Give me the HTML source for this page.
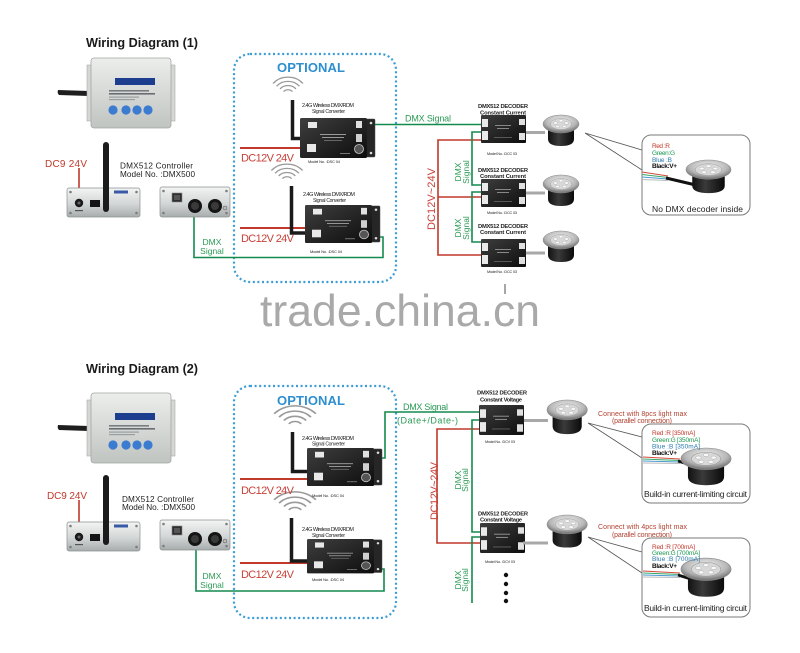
<!DOCTYPE html>
<html><head><meta charset="utf-8"><style>
html,body{margin:0;padding:0;background:#fff;}
svg{display:block;}
text{font-family:"Liberation Sans",Arial,sans-serif;}
</style></head><body>
<svg width="800" height="653" viewBox="0 0 800 653" xmlns="http://www.w3.org/2000/svg">
<defs>
<linearGradient id="gTop" x1="0" y1="0" x2="0" y2="1"><stop offset="0" stop-color="#eceeec"/><stop offset="1" stop-color="#c0c4c1"/></linearGradient>
<linearGradient id="gSil" x1="0" y1="0" x2="0" y2="1"><stop offset="0" stop-color="#f3f4f4"/><stop offset=".55" stop-color="#d3d6d6"/><stop offset="1" stop-color="#a7acac"/></linearGradient>
<linearGradient id="gBlk" x1="0" y1="0" x2="1" y2="1"><stop offset="0" stop-color="#3e3e3e"/><stop offset="1" stop-color="#0d0d0d"/></linearGradient>
<radialGradient id="gRing" cx=".5" cy=".35" r=".6"><stop offset="0" stop-color="#f4f4f4"/><stop offset=".7" stop-color="#b7b7b7"/><stop offset="1" stop-color="#7b7b7b"/></radialGradient>
<linearGradient id="gBody" x1="0" y1="0" x2="1" y2="0"><stop offset="0" stop-color="#111"/><stop offset=".4" stop-color="#3a3a3a"/><stop offset="1" stop-color="#0a0a0a"/></linearGradient>

<g id="ctop">
<path d="M-29,32 Q-30,35 -28,37 L2,38 L2,33 Z" fill="#1e1e1e"/>
<rect x="0" y="7" width="7" height="56" fill="#d4d7d4" stroke="#a8aba8" stroke-width=".6"/>
<rect x="81" y="7" width="7" height="56" fill="#d4d7d4" stroke="#a8aba8" stroke-width=".6"/>
<rect x="4" y="0" width="80" height="70" rx="3" fill="url(#gTop)" stroke="#a3a6a3" stroke-width=".8"/>
<rect x="28" y="20" width="40" height="7" fill="#1d3d8f"/>
<rect x="22" y="32" width="40" height="1.6" fill="#7a7d80"/>
<rect x="22" y="35" width="46" height="1.6" fill="#6a6d70"/>
<rect x="22" y="38.5" width="30" height="1.2" fill="#9a9da0"/>
<rect x="22" y="41" width="26" height="1.2" fill="#9a9da0"/>
<circle cx="26" cy="52" r="4.6" fill="#3b7bd0"/>
<circle cx="39" cy="52" r="4.6" fill="#3b7bd0"/>
<circle cx="50" cy="52" r="4.6" fill="#3b7bd0"/>
<circle cx="61" cy="52" r="4.6" fill="#3b7bd0"/>
</g>

<g id="front">
<rect x="0" y="0" width="73" height="29" rx="2" fill="url(#gSil)" stroke="#8c9090" stroke-width=".7"/>
<circle cx="3.5" cy="4" r="1.3" fill="#7a7e7e"/><circle cx="69.5" cy="4" r="1.3" fill="#7a7e7e"/>
<circle cx="3.5" cy="25" r="1.3" fill="#7a7e7e"/><circle cx="69.5" cy="25" r="1.3" fill="#7a7e7e"/>
<circle cx="12" cy="15" r="4.2" fill="#1a1a1a"/><circle cx="12" cy="15" r="1.5" fill="#666"/>
<rect x="23" y="12" width="10" height="7" fill="#141414"/>
<rect x="47" y="2.5" width="14" height="3" fill="#3a5aa8"/>
<rect x="8" y="22" width="8" height="1.2" fill="#555"/>
</g>

<g id="back">
<rect x="0" y="0" width="70" height="30" rx="2" fill="url(#gSil)" stroke="#8c9090" stroke-width=".7"/>
<circle cx="3.5" cy="4" r="1.3" fill="#7a7e7e"/><circle cx="66.5" cy="4" r="1.3" fill="#7a7e7e"/>
<circle cx="3.5" cy="26" r="1.3" fill="#7a7e7e"/><circle cx="66.5" cy="26" r="1.3" fill="#7a7e7e"/>
<rect x="12" y="6" width="10" height="9" fill="#2e2e2e" stroke="#888" stroke-width=".6"/>
<rect x="14" y="8" width="6" height="5" fill="#555"/>
<circle cx="35" cy="19" r="7" fill="#151515"/><circle cx="35" cy="19" r="4" fill="#3a3a3a"/>
<circle cx="55" cy="19" r="7" fill="#151515"/><circle cx="55" cy="19" r="4" fill="#3a3a3a"/>
<circle cx="65" cy="21" r="2" fill="#bbb" stroke="#555" stroke-width=".5"/>
</g>

<g id="conv">
<rect x="66" y="1" width="9" height="38" rx="1" fill="#262626" stroke="#4a4a4a" stroke-width=".5"/>
<circle cx="71" cy="5" r="1.3" fill="#ddd"/><circle cx="71" cy="35" r="1.3" fill="#ddd"/>
<rect x="0" y="0" width="67" height="40" rx="1.5" fill="url(#gBlk)"/>
<rect x="8" y="4" width="9" height="6" fill="#e8e8e8"/>
<rect x="7" y="26" width="9" height="8" fill="#e8e8e8"/>
<rect x="56" y="3" width="6" height="7" fill="#e0e0e0"/>
<rect x="56" y="16" width="6" height="8" fill="#d0d0d0"/>
<circle cx="59" cy="31" r="4.5" fill="#555" stroke="#ccc" stroke-width=".8"/>
<rect x="20" y="16" width="26" height="1" fill="#9a9a9a"/>
<rect x="22" y="19" width="22" height="1" fill="#9a9a9a"/>
<rect x="24" y="22" width="18" height=".8" fill="#777"/>
<rect x="40" y="35" width="10" height="1" fill="#777"/>
</g>

<g id="dec">
<rect x="0" y="0" width="45" height="28" rx="1" fill="url(#gBlk)"/>
<rect x="1" y="4" width="6" height="8" fill="#eaeaea"/>
<rect x="1" y="16" width="6" height="9" fill="#eaeaea"/>
<rect x="38" y="4" width="6" height="6" fill="#e0e0e0"/>
<rect x="38" y="18" width="6" height="7" fill="#e0e0e0"/>
<rect x="14" y="10" width="16" height="1" fill="#888"/>
<rect x="16" y="13" width="12" height="1" fill="#888"/>
<rect x="13" y="22" width="18" height=".8" fill="#666"/>
</g>

<g id="lt">
<path d="M5,9 L5,24 Q5,31 18,31 Q31,31 31,24 L31,9 Z" fill="url(#gBody)"/>
<ellipse cx="18" cy="9" rx="18" ry="9" fill="url(#gRing)" stroke="#8a8a8a" stroke-width=".5"/>
<ellipse cx="18" cy="9" rx="10.5" ry="5.5" fill="#d8d8d8" stroke="#999" stroke-width=".4"/>
<ellipse cx="12.5" cy="8" rx="2" ry="1.3" fill="#f8f8f8" stroke="#999" stroke-width=".3"/>
<ellipse cx="18" cy="5.8" rx="2" ry="1.3" fill="#f8f8f8" stroke="#999" stroke-width=".3"/>
<ellipse cx="23.5" cy="8" rx="2" ry="1.3" fill="#f8f8f8" stroke="#999" stroke-width=".3"/>
<ellipse cx="14.5" cy="11.5" rx="2" ry="1.3" fill="#f8f8f8" stroke="#999" stroke-width=".3"/>
<ellipse cx="21.5" cy="11.5" rx="2" ry="1.3" fill="#f8f8f8" stroke="#999" stroke-width=".3"/>
</g>

<g id="wifi" fill="none" stroke="#9a9a9a" stroke-width="1.2">
<path d="M-3.83,-3.21 A5,5 0 0 1 3.83,-3.21"/>
<path d="M-6.89,-5.79 A9,9 0 0 1 6.89,-5.79"/>
<path d="M-9.96,-8.36 A13,13 0 0 1 9.96,-8.36"/>
<path d="M-13.02,-10.93 A17,17 0 0 1 13.02,-10.93"/>
</g>
</defs>

<!-- ============ DIAGRAM 1 ============ -->
<text x="86" y="47" font-weight="bold" font-size="12.7" fill="#1a1a1a" textLength="112">Wiring Diagram (1)</text>

<rect x="234" y="54" width="162" height="228" rx="16" fill="none" stroke="#3b9dd4" stroke-width="2.2" stroke-dasharray="2 2.6"/>
<text x="277" y="72" font-weight="bold" font-size="13" fill="#2d8fd0" textLength="68">OPTIONAL</text>

<!-- wiring -->
<line x1="79" y1="168" x2="79" y2="200" stroke="#c0392b" stroke-width="1.6"/>
<line x1="240" y1="148" x2="306" y2="148" stroke="#c0392b" stroke-width="2"/>
<line x1="240" y1="228" x2="310" y2="228" stroke="#c0392b" stroke-width="2"/>
<path d="M194,212 V257.5 H383 V237 H372" fill="none" stroke="#138a4e" stroke-width="1.6"/>
<path d="M372,124.5 H482" fill="none" stroke="#138a4e" stroke-width="1.6"/>
<path d="M482,140 H438 V255 H482 M438,197 H482" fill="none" stroke="#c0392b" stroke-width="1.6"/>
<path d="M482,132 H472 V185 H482 M482,192 H472 V242 H482" fill="none" stroke="#138a4e" stroke-width="1.6"/>

<!-- devices -->
<use href="#ctop" x="87" y="58"/>
<use href="#front" x="67" y="188"/>
<rect x="103" y="142" width="6" height="70" rx="3" fill="#1b1b1b"/>
<use href="#back" x="160" y="187"/>

<use href="#wifi" transform="translate(288,95) scale(1.15,1.05)"/>
<path d="M292.5,100 V138.5 H308" fill="none" stroke="#1a1a1a" stroke-width="3.5"/>
<use href="#conv" x="300" y="118"/>
<use href="#wifi" transform="translate(287,182) scale(1.2,1.05)"/>
<path d="M291.5,186 V233 H308" fill="none" stroke="#1a1a1a" stroke-width="3.5"/>
<use href="#conv" transform="translate(305,205) scale(1,0.95)"/>

<use href="#dec" x="481" y="115"/>
<use href="#dec" x="481" y="179"/>
<use href="#dec" x="481" y="239"/>
<rect x="526" y="131" width="19" height="3" fill="#a8a8a8"/>
<rect x="526" y="191.5" width="19" height="3" fill="#a8a8a8"/>
<rect x="526" y="251.5" width="19" height="3" fill="#a8a8a8"/>
<use href="#lt" x="543" y="115"/>
<use href="#lt" x="543" y="175"/>
<use href="#lt" x="543" y="231"/>

<!-- callout 1 -->
<path d="M585,133 L642,150 M585,133 L642,170" stroke="#555" stroke-width=".8" fill="none"/>
<rect x="642" y="135" width="108" height="80" rx="9" fill="#fff" stroke="#7a7a7a" stroke-width="1"/>
<path d="M642,172 L668,176" stroke="#d04a3a" stroke-width="1"/>
<path d="M642,174.5 L668,177.5" stroke="#3aa86a" stroke-width="1"/>
<path d="M642,177 L668,179" stroke="#4a9ad0" stroke-width="1"/>
<path d="M642,179.5 L668,180.5" stroke="#bbb" stroke-width="1"/>
<path d="M666,178 L700,186" stroke="#111" stroke-width="3"/>
<use href="#lt" transform="translate(686,160) scale(1.25,1.07)"/>
<text font-size="6.5" x="652" y="148" fill="#c0392b" textLength="18">Red :R</text>
<text font-size="6.5" x="652" y="155" fill="#1a9a50" textLength="23">Green:G</text>
<text font-size="6.5" x="652" y="162" fill="#2a7ab0" textLength="20">Blue :B</text>
<text font-size="6.5" x="652" y="168" fill="#111" font-weight="bold" textLength="25">Black:V+</text>
<text font-size="8.5" x="652" y="212" fill="#222" textLength="91">No DMX decoder inside</text>

<!-- texts diagram 1 -->
<text x="45" y="167" font-size="10" fill="#c0392b" textLength="42">DC9 24V</text>
<text x="120" y="168.5" font-size="8.2" fill="#222" textLength="73">DMX512 Controller</text>
<text x="120" y="177" font-size="8.2" fill="#222" textLength="75">Model No. :DMX500</text>
<text x="212" y="245" font-size="8.5" fill="#2a9a55" text-anchor="middle">DMX</text>
<text x="212" y="254" font-size="8.5" fill="#2a9a55" text-anchor="middle">Signal</text>

<text x="302" y="107" font-size="5.5" fill="#222" textLength="52">2.4G Wireless DMX/RDM</text>
<text x="312" y="113" font-size="5" fill="#222" textLength="33">Signal Converter</text>
<text x="241" y="161.5" font-size="11" fill="#c8413a" textLength="53">DC12V 24V</text>
<text x="308" y="163" font-size="4" fill="#222" textLength="32">Model No. :DSC 04</text>

<text x="303" y="196" font-size="5.5" fill="#222" textLength="52">2.4G Wireless DMX/RDM</text>
<text x="313" y="202" font-size="5" fill="#222" textLength="33">Signal Converter</text>
<text x="241" y="242" font-size="11" fill="#c8413a" textLength="53">DC12V 24V</text>
<text x="310" y="253" font-size="4" fill="#222" textLength="32">Model No. :DSC 04</text>

<text x="405" y="121.5" font-size="9" fill="#2a9a55" textLength="46">DMX Signal</text>

<text x="478" y="108" font-size="5.8" font-weight="bold" fill="#222" textLength="50">DMX512 DECODER</text>
<text x="480" y="114.5" font-size="5.8" font-weight="bold" fill="#222" textLength="46">Constant Current</text>
<text x="487" y="155" font-size="3.8" fill="#222" textLength="30">Model No. :DCC 03</text>
<text x="478" y="172" font-size="5.8" font-weight="bold" fill="#222" textLength="50">DMX512 DECODER</text>
<text x="480" y="178" font-size="5.8" font-weight="bold" fill="#222" textLength="46">Constant Current</text>
<text x="487" y="214" font-size="3.8" fill="#222" textLength="30">Model No. :DCC 03</text>
<text x="478" y="228" font-size="5.8" font-weight="bold" fill="#222" textLength="50">DMX512 DECODER</text>
<text x="480" y="234" font-size="5.8" font-weight="bold" fill="#222" textLength="46">Constant Current</text>
<text x="487" y="273" font-size="3.8" fill="#222" textLength="30">Model No. :DCC 03</text>

<text transform="translate(435,199) rotate(-90)" font-size="11" fill="#c8413a" text-anchor="middle" textLength="62">DC12V~24V</text>
<text transform="translate(461,172) rotate(-90)" font-size="8.5" fill="#2a9a55" text-anchor="middle">DMX</text>
<text transform="translate(469,172) rotate(-90)" font-size="8.5" fill="#2a9a55" text-anchor="middle">Signal</text>
<text transform="translate(461,228) rotate(-90)" font-size="8.5" fill="#2a9a55" text-anchor="middle">DMX</text>
<text transform="translate(469,228) rotate(-90)" font-size="8.5" fill="#2a9a55" text-anchor="middle">Signal</text>

<!-- watermark -->
<line x1="505" y1="284" x2="505" y2="294" stroke="#888" stroke-width="1.5"/>
<text x="260" y="326" font-size="44.5" fill="#a9a9a9" textLength="280">trade.china.cn</text>

<!-- ============ DIAGRAM 2 ============ -->
<text x="86" y="373" font-weight="bold" font-size="12.7" fill="#1a1a1a" textLength="112">Wiring Diagram (2)</text>

<rect x="234" y="386" width="162" height="232" rx="16" fill="none" stroke="#3b9dd4" stroke-width="2.2" stroke-dasharray="2 2.6"/>
<text x="277" y="405" font-weight="bold" font-size="13" fill="#2d8fd0" textLength="68">OPTIONAL</text>

<line x1="79" y1="500" x2="79" y2="534" stroke="#c0392b" stroke-width="1.6"/>
<line x1="240" y1="479" x2="310" y2="479" stroke="#c0392b" stroke-width="2"/>
<line x1="240" y1="563" x2="310" y2="563" stroke="#c0392b" stroke-width="2"/>
<path d="M196,545 V591 H384 V569 H376" fill="none" stroke="#138a4e" stroke-width="1.6"/>
<path d="M376,458 H385 V412 H480" fill="none" stroke="#138a4e" stroke-width="1.6"/>
<path d="M480,429 H437 V543 H480" fill="none" stroke="#c0392b" stroke-width="1.6"/>
<path d="M480,420 H472 V532 H480 M480,537 H472 V603" fill="none" stroke="#138a4e" stroke-width="1.6"/>

<use href="#ctop" x="87" y="393"/>
<use href="#front" x="67" y="522"/>
<rect x="103" y="475" width="6" height="70" rx="3" fill="#1b1b1b"/>
<use href="#back" x="160" y="520"/>

<use href="#wifi" transform="translate(295,428) scale(1.6,1.3)" stroke-width=".9"/>
<path d="M292.5,432 V471.5 H310" fill="none" stroke="#1a1a1a" stroke-width="3.5"/>
<use href="#conv" transform="translate(307,448) scale(1,0.95)"/>
<use href="#wifi" transform="translate(295,514) scale(1.6,1.3)" stroke-width=".9"/>
<path d="M291.5,518 V561 H310" fill="none" stroke="#1a1a1a" stroke-width="3.5"/>
<use href="#conv" transform="translate(307,539) scale(1,0.86)"/>

<use href="#dec" transform="translate(479,405) scale(1,1.07)"/>
<use href="#dec" transform="translate(480,523) scale(1,1.07)"/>
<rect x="524" y="419" width="24" height="3" fill="#a8a8a8"/>
<rect x="523" y="541.5" width="25" height="3" fill="#a8a8a8"/>
<use href="#lt" transform="translate(547,400) scale(1.12,1.1)"/>
<use href="#lt" transform="translate(547,515) scale(1.12,1.05)"/>
<circle cx="506" cy="575" r="2.2" fill="#111"/>
<circle cx="506" cy="584" r="2.2" fill="#111"/>
<circle cx="506" cy="593" r="2.2" fill="#111"/>
<circle cx="506" cy="601" r="2.2" fill="#111"/>

<!-- callout 2 -->
<path d="M588,423 L642,437 M588,423 L642,458" stroke="#555" stroke-width=".8" fill="none"/>
<rect x="642" y="424" width="108" height="79" rx="9" fill="#fff" stroke="#7a7a7a" stroke-width="1"/>
<path d="M643,457 L680,459" stroke="#d04a3a" stroke-width="1"/>
<path d="M643,459 L680,460.5" stroke="#3aa86a" stroke-width="1"/>
<path d="M643,461 L680,462" stroke="#4a9ad0" stroke-width="1"/>
<path d="M643,463 L680,463.5" stroke="#bbb" stroke-width="1"/>
<path d="M678,461 L707,470" stroke="#111" stroke-width="3"/>
<use href="#lt" transform="translate(681,448) scale(1.39,1.2)"/>
<text font-size="7" x="598" y="416" fill="#b04030" textLength="89">Connect with 8pcs light max</text>
<text font-size="7" x="612" y="423" fill="#b04030" textLength="60">(parallel connection)</text>
<text font-size="6.5" x="652" y="435" fill="#c0392b" textLength="43">Red :R [350mA]</text>
<text font-size="6.5" x="652" y="442" fill="#1a9a50" textLength="48">Green:G [350mA]</text>
<text font-size="6.5" x="652" y="448.5" fill="#2a7ab0" textLength="48">Blue :B [350mA]</text>
<text font-size="6.5" x="652" y="455" fill="#111" font-weight="bold" textLength="25">Black:V+</text>
<text font-size="8.5" x="644" y="497" fill="#222" textLength="103">Build-in current-limiting circuit</text>

<!-- callout 3 -->
<path d="M588,537 L642,552 M588,537 L642,573" stroke="#555" stroke-width=".8" fill="none"/>
<rect x="642" y="538" width="108" height="79" rx="9" fill="#fff" stroke="#7a7a7a" stroke-width="1"/>
<path d="M643,571 L680,573" stroke="#d04a3a" stroke-width="1"/>
<path d="M643,573 L680,574.5" stroke="#3aa86a" stroke-width="1"/>
<path d="M643,575 L680,576" stroke="#4a9ad0" stroke-width="1"/>
<path d="M643,577 L680,577.5" stroke="#bbb" stroke-width="1"/>
<path d="M678,575 L707,584" stroke="#111" stroke-width="3"/>
<use href="#lt" transform="translate(681,558) scale(1.39,1.25)"/>
<text font-size="7" x="598" y="529" fill="#b04030" textLength="89">Connect with 4pcs light max</text>
<text font-size="7" x="612" y="537" fill="#b04030" textLength="60">(parallel connection)</text>
<text font-size="6.5" x="652" y="549" fill="#c0392b" textLength="43">Red :R [700mA]</text>
<text font-size="6.5" x="652" y="555" fill="#1a9a50" textLength="48">Green:G [700mA]</text>
<text font-size="6.5" x="652" y="561" fill="#2a7ab0" textLength="48">Blue :B [700mA]</text>
<text font-size="6.5" x="652" y="568" fill="#111" font-weight="bold" textLength="25">Black:V+</text>
<text font-size="8.5" x="644" y="611" fill="#222" textLength="103">Build-in current-limiting circuit</text>

<!-- texts diagram 2 -->
<text x="47" y="499" font-size="10" fill="#c0392b" textLength="40">DC9 24V</text>
<text x="122" y="502" font-size="8.2" fill="#222" textLength="72">DMX512 Controller</text>
<text x="122" y="510" font-size="8.2" fill="#222" textLength="73">Model No. :DMX500</text>
<text x="212" y="579" font-size="8.5" fill="#2a9a55" text-anchor="middle">DMX</text>
<text x="212" y="588" font-size="8.5" fill="#2a9a55" text-anchor="middle">Signal</text>

<text x="302" y="440" font-size="5.5" fill="#222" textLength="52">2.4G Wireless DMX/RDM</text>
<text x="312" y="445.5" font-size="5" fill="#222" textLength="33">Signal Converter</text>
<text x="241" y="494" font-size="11" fill="#c8413a" textLength="53">DC12V 24V</text>
<text x="312" y="497" font-size="4" fill="#222" textLength="32">Model No. :DSC 04</text>

<text x="302" y="531" font-size="5.5" fill="#222" textLength="52">2.4G Wireless DMX/RDM</text>
<text x="312" y="537" font-size="5" fill="#222" textLength="33">Signal Converter</text>
<text x="241" y="578" font-size="11" fill="#c8413a" textLength="53">DC12V 24V</text>
<text x="312" y="581" font-size="4" fill="#222" textLength="32">Model No. :DSC 04</text>

<text x="403" y="410" font-size="9" fill="#2a9a55" textLength="45">DMX Signal</text>
<text x="397" y="423.5" font-size="9" fill="#2a9a55" textLength="61">(Date+/Date-)</text>

<text x="477" y="394.5" font-size="5.8" font-weight="bold" fill="#222" textLength="50">DMX512 DECODER</text>
<text x="480" y="401.5" font-size="5.8" font-weight="bold" fill="#222" textLength="42">Constant Voltage</text>
<text x="485" y="443" font-size="3.8" fill="#222" textLength="30">Model No. :DCV 03</text>
<text x="478" y="515.5" font-size="5.8" font-weight="bold" fill="#222" textLength="50">DMX512 DECODER</text>
<text x="480" y="521.5" font-size="5.8" font-weight="bold" fill="#222" textLength="42">Constant Voltage</text>
<text x="485" y="563" font-size="3.8" fill="#222" textLength="30">Model No. :DCV 03</text>

<text transform="translate(438,491) rotate(-90)" font-size="11" fill="#c8413a" text-anchor="middle" textLength="58">DC12V~24V</text>
<text transform="translate(461,480) rotate(-90)" font-size="8.5" fill="#2a9a55" text-anchor="middle">DMX</text>
<text transform="translate(468,480) rotate(-90)" font-size="8.5" fill="#2a9a55" text-anchor="middle">Signal</text>
<text transform="translate(461,580) rotate(-90)" font-size="8.5" fill="#2a9a55" text-anchor="middle">DMX</text>
<text transform="translate(468,580) rotate(-90)" font-size="8.5" fill="#2a9a55" text-anchor="middle">Signal</text>
</svg>
</body></html>
